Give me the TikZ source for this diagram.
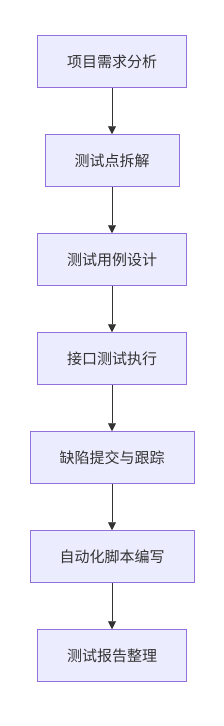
\documentclass[tikz,border=0pt]{standalone}
\usepackage{fontspec}
\newfontfamily\cjk{Noto Sans CJK SC}
\usetikzlibrary{arrows.meta}
\definecolor{boxfill}{HTML}{ECECFF}
\definecolor{boxline}{HTML}{9370DB}
\definecolor{ink}{HTML}{333333}
\begin{document}
\begin{tikzpicture}[x=1pt,y=-1pt,
  stepbox/.style={draw=boxline, fill=boxfill, line width=1pt, minimum height=51.5pt, anchor=center, text=ink, font=\cjk\fontsize{15}{18}\selectfont, inner sep=0pt},
  flow/.style={draw=ink, line width=0.9pt, -{Triangle[length=8pt,width=8pt]}}]
\useasboundingbox (0,0) rectangle (224,726);
\node[stepbox, minimum width=149pt] (a) at (112,61.5) {项目需求分析};
\node[stepbox, minimum width=134pt] (b) at (112,160.5) {测试点拆解};
\node[stepbox, minimum width=149pt] (c) at (112,259.5) {测试用例设计};
\node[stepbox, minimum width=149pt] (d) at (112,358.5) {接口测试执行};
\node[stepbox, minimum width=164pt] (e) at (112,457.5) {缺陷提交与跟踪};
\node[stepbox, minimum width=164pt] (f) at (112,556.5) {自动化脚本编写};
\node[stepbox, minimum width=149pt] (g) at (112,655.5) {测试报告整理};
\draw[flow] (a) -- (b);
\draw[flow] (b) -- (c);
\draw[flow] (c) -- (d);
\draw[flow] (d) -- (e);
\draw[flow] (e) -- (f);
\draw[flow] (f) -- (g);
\end{tikzpicture}
\end{document}
